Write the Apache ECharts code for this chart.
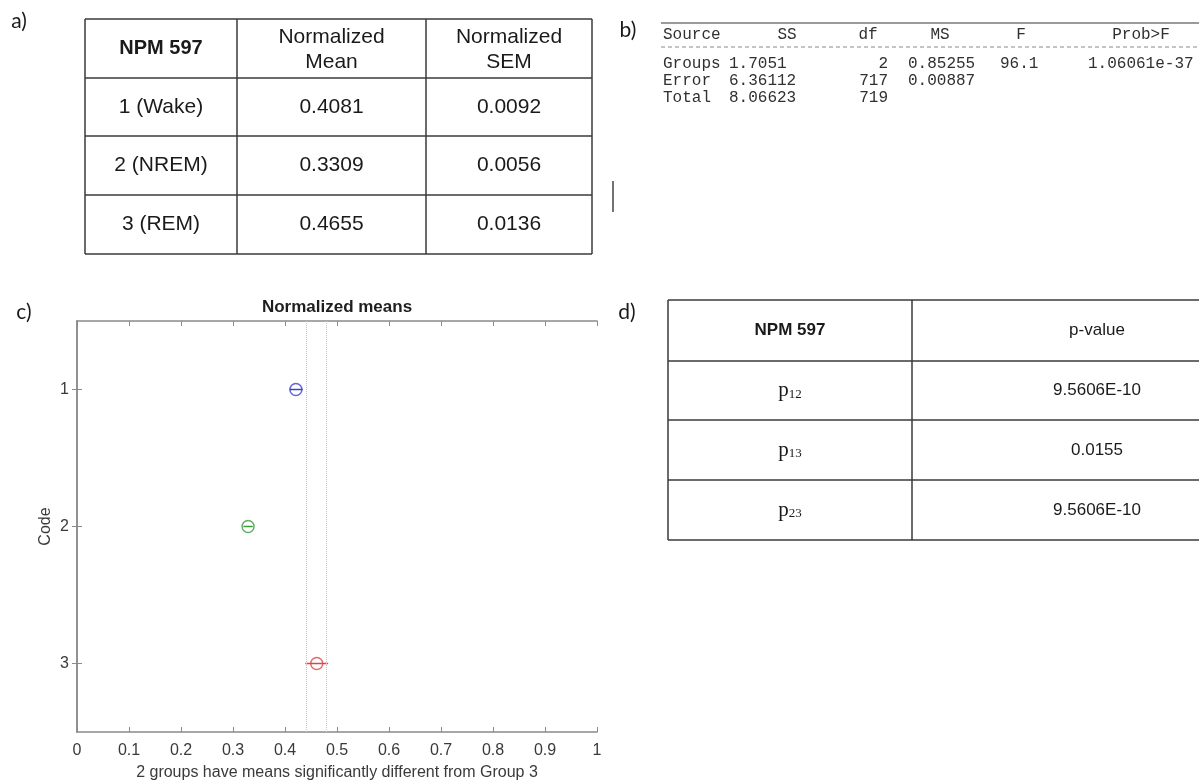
<!DOCTYPE html>
<html><head><meta charset="utf-8">
<script src="https://cdn.jsdelivr.net/npm/echarts@6/dist/echarts.min.js"></script>
<style>html,body{margin:0;padding:0;background:#fff}#c{width:1199px;height:782px}</style>
</head><body><div id="c"></div>
<script>
// ---------- Panel a: summary table ----------
const tableAHeader = ['NPM 597', 'Normalized\nMean', 'Normalized\nSEM'];
const tableAGroups = ['1 (Wake)', '2 (NREM)', '3 (REM)'];
const tableAMean = ['0.4081', '0.3309', '0.4655'];
const tableASEM = ['0.0092', '0.0056', '0.0136'];

// ---------- Panel b: ANOVA table ----------
const anovaHeader = ['Source', 'SS', 'df', 'MS', 'F', 'Prob>F'];
const anovaSource = ['Groups', 'Error', 'Total'];
const anovaSS = ['1.7051', '6.36112', '8.06623'];
const anovaDf = ['2', '717', '719'];
const anovaMS = ['0.85255', '0.00887', ''];
const anovaF = ['96.1', '', ''];
const anovaP = ['1.06061e-37', '', ''];

// ---------- Panel c: multiple comparison plot ----------
const codes = ['1', '2', '3'];
const groupMeans = [0.421, 0.329, 0.461];
const ciLow = [0.409, 0.320, 0.439];
const ciHigh = [0.434, 0.338, 0.483];
const groupColors = ['#4141c8', '#3e983e', '#dd4646'];
const selectedGroup = 2; // Group 3
const plotTitle = 'Normalized means';
const xAxisName = '2 groups have means significantly different from Group 3';
const yAxisName = 'Code';

// ---------- Panel d: p-value table ----------
const tableDHeader = ['NPM 597', 'p-value'];
const pairs = ['12', '13', '23'];
const pValues = ['9.5606E-10', '0.0155', '9.5606E-10'];

const panelLabels = ['a)', 'b)', 'c)', 'd)'];

// ---------- drawing helpers ----------
const SANS = 'Liberation Sans, Arial, sans-serif';
const MONO = 'Liberation Mono, Courier New, monospace';
const SERIF = 'Liberation Serif, Times New Roman, serif';
const LBL = 'Lato, Open Sans, sans-serif';
const G = [];
function line(x1, y1, x2, y2, stroke, w, dash) {
  G.push({ type: 'line', silent: true, shape: { x1, y1, x2, y2 },
    style: { stroke, lineWidth: w, lineDash: dash || null } });
}
function text(x, y, t, o) {
  o = o || {};
  G.push({ type: 'text', silent: true, x, y, z: 10,
    style: { text: t, fontSize: o.size || 16, fontFamily: o.font || SANS,
      fontWeight: o.weight || 'normal', fill: o.color || '#1a1a1a',
      align: o.align || 'center', verticalAlign: 'middle',
      lineHeight: o.lh || undefined, rich: o.rich || undefined } });
}

// panel labels
text(19, 21, panelLabels[0], { size: 21, font: LBL });
text(628, 30, panelLabels[1], { size: 21, font: LBL });
text(24, 312, panelLabels[2], { size: 21, font: LBL });
text(627, 312, panelLabels[3], { size: 21, font: LBL });

// table a
(function () {
  const xs = [85, 237, 426, 592], ys = [19, 78, 136, 195, 254];
  const c = '#3a3a3a';
  ys.forEach(y => line(xs[0], y, xs[3], y, c, 1.5));
  xs.forEach(x => line(x, ys[0], x, ys[4], c, 1.5));
  const cx = i => (xs[i] + xs[i + 1]) / 2, cy = r => (ys[r] + ys[r + 1]) / 2;
  text(cx(0), cy(0), tableAHeader[0], { size: 20, weight: 'bold' });
  text(cx(1), cy(0) + 1, tableAHeader[1], { size: 21, lh: 25 });
  text(cx(2), cy(0) + 1, tableAHeader[2], { size: 21, lh: 25 });
  for (let r = 0; r < 3; r++) {
    text(cx(0), cy(r + 1), tableAGroups[r], { size: 21 });
    text(cx(1), cy(r + 1), tableAMean[r], { size: 21 });
    text(cx(2), cy(r + 1), tableASEM[r], { size: 21 });
  }
})();

// panel b (ANOVA text output)
(function () {
  line(661, 23, 1199, 23, '#9a9a9a', 2);
  line(661, 47, 1199, 47, '#8a8a8a', 1, [4, 3]);
  const col = '#303030', fs = 16;
  const o = (align) => ({ size: fs, font: MONO, color: col, align });
  const hy = 35;
  text(663, hy, anovaHeader[0], o('left'));
  text(787, hy, anovaHeader[1], o('center'));
  text(868, hy, anovaHeader[2], o('center'));
  text(940, hy, anovaHeader[3], o('center'));
  text(1021, hy, anovaHeader[4], o('center'));
  text(1141, hy, anovaHeader[5], o('center'));
  const ry = [64, 81, 97.5];
  for (let r = 0; r < 3; r++) {
    text(663, ry[r], anovaSource[r], o('left'));
    text(729, ry[r], anovaSS[r], o('left'));
    text(888, ry[r], anovaDf[r], o('right'));
    text(908, ry[r], anovaMS[r], o('left'));
    text(1000, ry[r], anovaF[r], o('left'));
    text(1088, ry[r], anovaP[r], o('left'));
  }
  line(613, 181, 613, 212, '#444', 1.5);
})();

// table d
(function () {
  const xs = [668, 912, 1282], ys = [300, 361, 420, 480, 540];
  const c = '#3a3a3a';
  ys.forEach(y => line(xs[0], y, xs[2], y, c, 1.5));
  xs.forEach(x => line(x, ys[0], x, ys[4], c, 1.5));
  const cx = i => (xs[i] + xs[i + 1]) / 2, cy = r => (ys[r] + ys[r + 1]) / 2;
  text(cx(0), cy(0), tableDHeader[0], { size: 17, weight: 'bold' });
  text(cx(1), cy(0), tableDHeader[1], { size: 17 });
  const rich = { p: { fontSize: 21, fontFamily: SERIF, fill: '#1a1a1a', verticalAlign: 'bottom' },
                 s: { fontSize: 13, fontFamily: SERIF, fill: '#1a1a1a', verticalAlign: 'bottom' } };
  for (let r = 0; r < 3; r++) {
    text(cx(0), cy(r + 1), '{p|p}{s|' + pairs[r] + '}', { rich, font: SERIF });
    text(cx(1), cy(r + 1), pValues[r], { size: 17 });
  }
})();

// title of plot c
text(337, 307, plotTitle, { size: 17, weight: 'bold', color: '#1e1e1e' });

const axisGray = '#8a8a8a', labelGray = '#3a3a3a';
const boxAxis = {
  axisLine: { show: true, lineStyle: { color: axisGray, width: 1.5 } },
  axisTick: { show: true, inside: true, length: 5, lineStyle: { color: axisGray, width: 1 } },
  splitLine: { show: false }
};

const chart = echarts.init(document.getElementById('c'), null, { renderer: 'canvas' });
chart.setOption({
  animation: false,
  backgroundColor: '#ffffff',
  grid: { left: 77, top: 321, width: 520, height: 411, containLabel: false, outerBoundsMode: 'none' },
  xAxis: [
    Object.assign({
      type: 'value', min: 0, max: 1, interval: 0.1, position: 'bottom',
      axisLabel: { fontSize: 16, color: labelGray, fontFamily: SANS, margin: 11,
        formatter: v => String(Math.round(v * 10) / 10) },
      name: xAxisName, nameLocation: 'middle', nameGap: 33, nameMoveOverlap: false,
      nameTextStyle: { fontSize: 16, color: labelGray, fontFamily: SANS }
    }, boxAxis),
    Object.assign({
      type: 'value', min: 0, max: 1, interval: 0.1, position: 'top',
      axisLabel: { show: false }
    }, boxAxis)
  ],
  yAxis: [
    Object.assign({}, boxAxis, {
      type: 'category', data: codes, inverse: true, position: 'left', boundaryGap: true,
      axisTick: { show: true, inside: true, length: 5, alignWithLabel: true, lineStyle: { color: axisGray } },
      axisLabel: { fontSize: 16, color: labelGray, fontFamily: SANS, margin: 8 },
      name: yAxisName, nameLocation: 'middle', nameGap: 23, nameMoveOverlap: false,
      nameTextStyle: { fontSize: 16, color: labelGray, fontFamily: SANS }
    }),
    Object.assign({}, boxAxis, {
      type: 'category', data: codes, inverse: true, position: 'right', boundaryGap: true,
      axisTick: { show: true, inside: true, length: 5, alignWithLabel: true, lineStyle: { color: axisGray } },
      axisLabel: { show: false }
    })
  ],
  series: [
    {
      type: 'custom', xAxisIndex: 0, yAxisIndex: 0, z: 3,
      data: codes.map((c, i) => [ciLow[i], ciHigh[i], c]),
      encode: { x: [0, 1], y: 2 },
      renderItem: function (params, api) {
        const a = api.coord([api.value(0), api.value(2)]);
        const b = api.coord([api.value(1), api.value(2)]);
        return { type: 'line', shape: { x1: a[0], y1: a[1], x2: b[0], y2: b[1] },
          style: { stroke: groupColors[params.dataIndex], lineWidth: 1.5 } };
      }
    },
    {
      type: 'scatter', xAxisIndex: 0, yAxisIndex: 0, z: 4,
      symbol: 'circle', symbolSize: 12,
      data: codes.map((c, i) => ({ value: [groupMeans[i], c],
        itemStyle: { color: 'rgba(0,0,0,0)', borderColor: groupColors[i], borderWidth: 1.5 } })),
      markLine: {
        silent: true, symbol: ['none', 'none'], label: { show: false },
        lineStyle: { type: 'dotted', color: '#c4c4c4', width: 1 },
        data: [{ xAxis: ciLow[selectedGroup] }, { xAxis: ciHigh[selectedGroup] }]
      }
    }
  ],
  graphic: G
});
</script></body></html>
